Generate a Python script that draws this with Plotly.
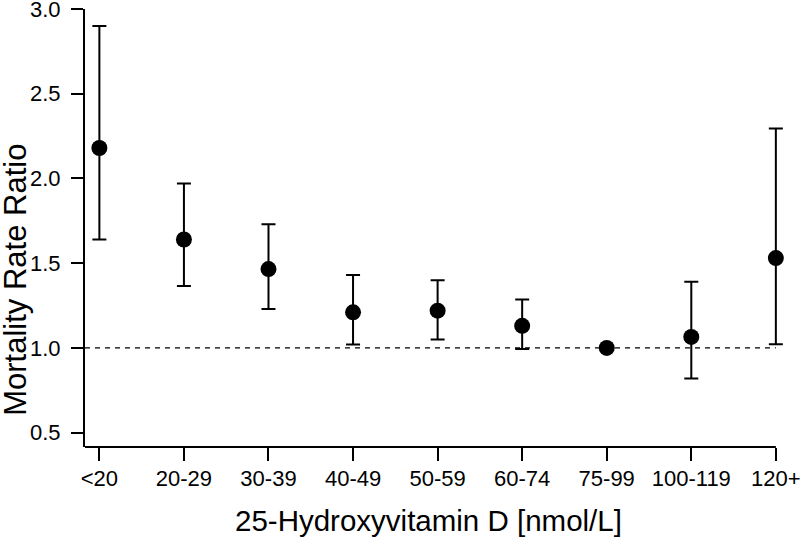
import plotly.graph_objects as go

categories = ["<20", "20-29", "30-39", "40-49", "50-59", "60-74", "75-99", "100-119", "120+"]
ratio = [2.18, 1.64, 1.465, 1.21, 1.22, 1.13, 1.00, 1.065, 1.53]
upper = [2.90, 1.97, 1.73, 1.43, 1.40, 1.285, None, 1.39, 2.295]
lower = [1.64, 1.365, 1.23, 1.02, 1.05, 0.993, None, 0.82, 1.022]
y_ticks = [0.5, 1.0, 1.5, 2.0, 2.5, 3.0]
reference_line = 1.0
x_title = "25-Hydroxyvitamin D [nmol/L]"
y_title = "Mortality Rate Ratio"

err_plus = [(u - r) if u is not None else 0 for u, r in zip(upper, ratio)]
err_minus = [(r - l) if l is not None else 0 for l, r in zip(lower, ratio)]
has_bar = [u is not None for u in upper]

font_family = "Liberation Sans, Arial, Helvetica, sans-serif"
x_start = -0.17
x_end_pad = 0.12

fig = go.Figure()

# error bars (only for categories that have a CI)
fig.add_trace(go.Scatter(
    x=[c for c, h in zip(categories, has_bar) if h],
    y=[r for r, h in zip(ratio, has_bar) if h],
    mode="markers",
    marker=dict(size=1, color="rgba(0,0,0,0)"),
    error_y=dict(
        type="data", symmetric=False,
        array=[e for e, h in zip(err_plus, has_bar) if h],
        arrayminus=[e for e, h in zip(err_minus, has_bar) if h],
        color="black", thickness=2, width=7,
    ),
    cliponaxis=False,
    hoverinfo="skip",
    showlegend=False,
))

fig.add_trace(go.Scatter(
    x=categories, y=ratio,
    mode="markers",
    marker=dict(size=16, color="black"),
    cliponaxis=False,
    showlegend=False,
))

# reference line at ratio 1.0
fig.add_shape(type="line", xref="x", x0=x_start, x1=len(categories) - 1, yref="y",
              y0=reference_line, y1=reference_line,
              line=dict(color="black", width=1.3, dash="5px,5px"), layer="below")
# bottom axis line (L-shaped box ending at the last tick)
fig.add_shape(type="line", xref="x", x0=x_start, x1=len(categories) - 1, yref="paper",
              y0=0, y1=0, line=dict(color="black", width=2), layer="above")

# axis titles
fig.add_annotation(text=x_title, xref="paper", yref="paper", x=0.4900, y=-0.1667,
                   xanchor="center", yanchor="middle", showarrow=False,
                   font=dict(size=29.5))
fig.add_annotation(text=y_title, xref="paper", yref="paper", x=-0.1003, y=0.381,
                   xanchor="center", yanchor="middle", textangle=-90, showarrow=False,
                   font=dict(size=31))

fig.update_layout(
    width=800, height=537,
    margin=dict(l=85, r=14, t=9, b=90),
    plot_bgcolor="white", paper_bgcolor="white",
    font=dict(family=font_family, color="black"),
    xaxis=dict(
        type="category",
        categoryorder="array", categoryarray=categories,
        range=[x_start, len(categories) - 1 + x_end_pad],
        showline=False, automargin=False,
        ticks="outside", ticklen=13, tickwidth=2, tickcolor="black",
        tickfont=dict(size=22), ticklabelstandoff=-1, ticklabeloverflow="allow",
        showgrid=False, zeroline=False,
    ),
    yaxis=dict(
        range=[0.415, 3.0005],
        tickvals=y_ticks, ticktext=[f"{v:.1f}" for v in y_ticks],
        showline=True, linecolor="black", linewidth=2, automargin=False,
        ticks="outside", ticklen=12, tickwidth=2, tickcolor="black",
        tickfont=dict(size=22), ticklabelstandoff=6, ticklabeloverflow="allow",
        showgrid=False, zeroline=False,
    ),
)

fig.write_html("out.html", config={"displayModeBar": False},
               post_script="document.body.style.margin='0';")
